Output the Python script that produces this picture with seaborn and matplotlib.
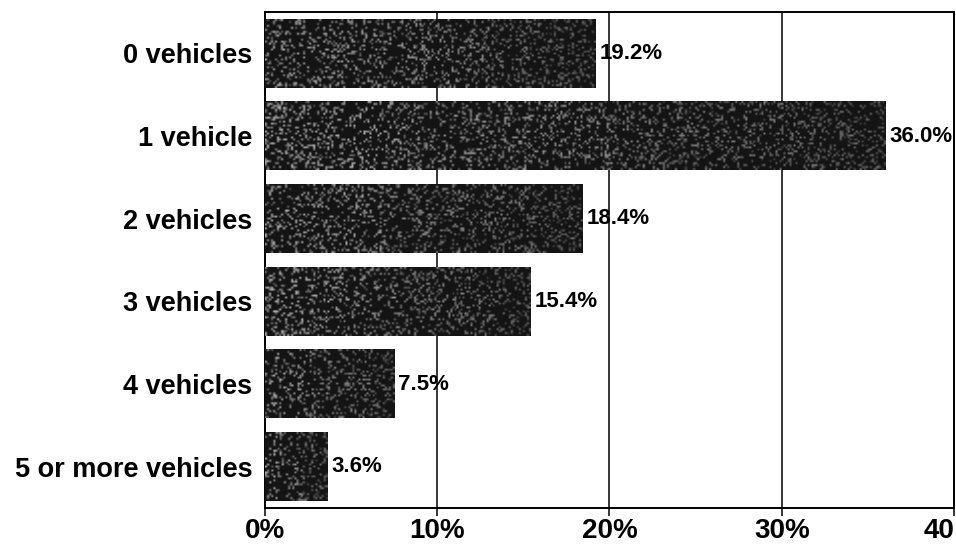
import numpy as np
import pandas as pd
import matplotlib
matplotlib.use("Agg")
import matplotlib.pyplot as plt
import seaborn as sns

categories = ["0 vehicles", "1 vehicle", "2 vehicles", "3 vehicles",
              "4 vehicles", "5 or more vehicles"]
shares = [19.2, 36.0, 18.4, 15.4, 7.5, 3.6]
x_ticks = [0, 10, 20, 30, 40]
x_tick_labels = ["0%", "10%", "20%", "30%", "40"]

df = pd.DataFrame({"category": categories, "share": shares})

sns.set_theme(style="white")
plt.rcParams["font.family"] = ["Liberation Sans", "DejaVu Sans"]

fig = plt.figure(figsize=(9.56, 5.48), dpi=100)
ax = fig.add_axes([0.277, 0.073, 0.721, 0.905])

sns.barplot(data=df, x="share", y="category", orient="h", color="#1a1a1a",
            width=0.83, saturation=1, ax=ax, edgecolor="none")

# speckled fill for each bar, clipped to the bar outline
rng = np.random.default_rng(7)
for patch in ax.patches:
    x0, y0 = patch.get_x(), patch.get_y()
    w, h = patch.get_width(), patch.get_height()
    nx = max(int(w * 17.2 / 2), 4)
    ny = 35
    grain = rng.random((ny, nx))
    fade = np.linspace(1.0, 0.55, nx)[None, :]
    speck = (grain > 0.78) * rng.uniform(0.25, 0.65, (ny, nx)) * fade
    vals = 0.08 + speck
    ax.imshow(vals, cmap="gray", vmin=0, vmax=1, aspect="auto",
              extent=(x0, x0 + w, y0 + h, y0), interpolation="bilinear",
              clip_path=patch, zorder=3)

ax.set_xlim(0, 40)
ax.set_ylim(5.5, -0.5)
ax.set_xticks(x_ticks)
ax.set_xticklabels(x_tick_labels, fontsize=20, fontweight="bold", color="black")
ax.set_yticklabels(categories, fontsize=19.5, fontweight="bold", color="black")
ax.set_xlabel("")
ax.set_ylabel("")

# last tick label sits at the right edge of the canvas
ax.get_xticklabels()[-1].set_horizontalalignment("right")
ax.get_xticklabels()[-1].set_x(40.05)

ax.xaxis.grid(True, color="black", linewidth=1.1)
ax.set_axisbelow(True)
for s in ax.spines.values():
    s.set_visible(True)
    s.set_color("black")
    s.set_linewidth(1.4)

ax.tick_params(axis="x", bottom=True, length=6, width=1.1, color="black", pad=1)
ax.tick_params(axis="y", left=False, pad=3)

for i, v in enumerate(shares):
    ax.text(v + 0.25, i, f"{v:.1f}%", va="center", ha="left",
            fontsize=16, fontweight="bold", color="black", zorder=5)

fig.savefig("out.png", dpi=100)
